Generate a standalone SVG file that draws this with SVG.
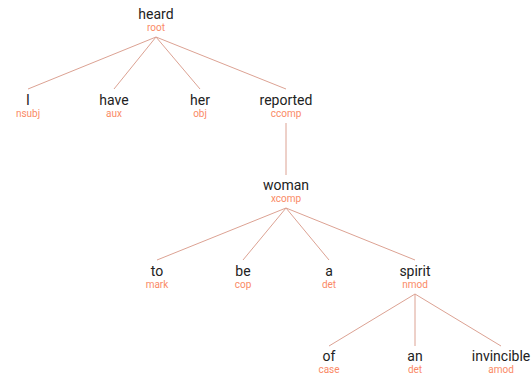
<svg xmlns="http://www.w3.org/2000/svg" width="531" height="375" viewBox="0 0 531 375">
  <style>
    .w { font-family: Roboto, "Liberation Sans", sans-serif; font-size: 14px; fill: #222; text-anchor: middle; }
    .l { font-family: Roboto, "Liberation Sans", sans-serif; font-size: 10px; fill: #fa8a66; text-anchor: middle; }
    .edge { stroke: #dca293; stroke-width: 1; fill: none; }
  </style>
  <rect width="531" height="375" fill="#ffffff"/>
  <!-- dependency edges -->
  <g id="edges">
    <line class="edge" x1="156" y1="37" x2="28" y2="89"/>
    <line class="edge" x1="156" y1="37" x2="114" y2="89"/>
    <line class="edge" x1="156" y1="37" x2="200" y2="89"/>
    <line class="edge" x1="156" y1="37" x2="286" y2="89"/>
    <line class="edge" x1="286" y1="123" x2="286" y2="175"/>
    <line class="edge" x1="286" y1="208" x2="157" y2="260"/>
    <line class="edge" x1="286" y1="208" x2="243" y2="260"/>
    <line class="edge" x1="286" y1="208" x2="329" y2="260"/>
    <line class="edge" x1="286" y1="208" x2="415" y2="260"/>
    <line class="edge" x1="415" y1="294" x2="329" y2="346"/>
    <line class="edge" x1="415" y1="294" x2="415" y2="346"/>
    <line class="edge" x1="415" y1="294" x2="501" y2="346"/>
  </g>
  <!-- tokens with their relation labels -->
  <g id="heard"><text class="w" x="156" y="19">heard</text><text class="l" x="156" y="31">root</text></g>
  <g id="I"><text class="w" x="28" y="104.5">I</text><text class="l" x="28" y="116.5">nsubj</text></g>
  <g id="have"><text class="w" x="114" y="104.5">have</text><text class="l" x="114" y="116.5">aux</text></g>
  <g id="her"><text class="w" x="200" y="104.5">her</text><text class="l" x="200" y="116.5">obj</text></g>
  <g id="reported"><text class="w" x="286" y="104.5">reported</text><text class="l" x="286" y="116.5">ccomp</text></g>
  <g id="woman"><text class="w" x="286" y="190">woman</text><text class="l" x="286" y="202">xcomp</text></g>
  <g id="to"><text class="w" x="157" y="275.5">to</text><text class="l" x="157" y="287.5">mark</text></g>
  <g id="be"><text class="w" x="243" y="275.5">be</text><text class="l" x="243" y="287.5">cop</text></g>
  <g id="a"><text class="w" x="329" y="275.5">a</text><text class="l" x="329" y="287.5">det</text></g>
  <g id="spirit"><text class="w" x="415" y="275.5">spirit</text><text class="l" x="415" y="287.5">nmod</text></g>
  <g id="of"><text class="w" x="329" y="361">of</text><text class="l" x="329" y="373">case</text></g>
  <g id="an"><text class="w" x="415" y="361">an</text><text class="l" x="415" y="373">det</text></g>
  <g id="invincible"><text class="w" x="501" y="361">invincible</text><text class="l" x="501" y="373">amod</text></g>
</svg>
